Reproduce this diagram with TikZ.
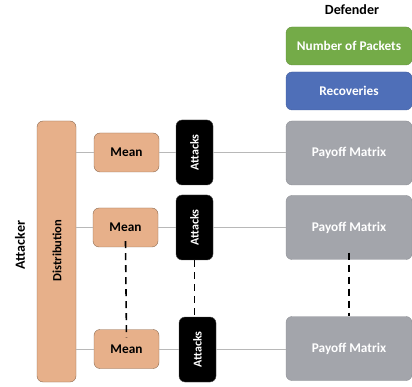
\documentclass[tikz,border=0pt]{standalone}
\usepackage{fontspec}
\setmainfont{Carlito}
\begin{document}
\begin{tikzpicture}[x=1pt,y=-1pt,
  box/.style={draw, rounded corners=6pt, inner sep=0pt, font=\bfseries\fontsize{13.3}{15}\selectfont},
  meanbox/.style={box, fill=meanfill, draw=meanedge, minimum width=65pt, minimum height=39pt},
  attbox/.style={box, fill=black, draw=black!70, text=white, minimum width=37pt, minimum height=65pt, font=\bfseries\fontsize{12}{14}\selectfont},
  paybox/.style={box, fill=payfill, draw=payedge, text=white, minimum width=126pt, minimum height=64pt},
  link/.style={draw=linegray, line width=0.8pt},
  dots/.style={draw=black, line width=1.6pt, dash pattern=on 7pt off 5pt}]
\definecolor{meanfill}{HTML}{E7B08A}
\definecolor{meanedge}{HTML}{8C6A50}
\definecolor{payfill}{HTML}{A3A5AB}
\definecolor{payedge}{HTML}{8E9096}
\definecolor{greenfill}{HTML}{74AB48}
\definecolor{bluefill}{HTML}{4F6FB8}
\definecolor{linegray}{HTML}{B8B8B8}
\useasboundingbox (0,0) rectangle (412,387);
% defender side
\node[font=\bfseries\fontsize{14}{16}\selectfont] (def) at (352,10) {Defender};
\node[box, fill=greenfill, draw=greenfill!85!black, text=white, minimum width=126pt, minimum height=38pt] (np) at (349,46) {Number of Packets};
\node[box, fill=bluefill, draw=bluefill!85!black, text=white, minimum width=126pt, minimum height=38pt] (rec) at (349,91) {Recoveries};
\node[paybox] (p1) at (349,153) {Payoff Matrix};
\node[paybox] (p2) at (349,227.5) {Payoff Matrix};
\node[paybox] (p3) at (349,348.5) {Payoff Matrix};
% attacker side
\node[font=\bfseries\fontsize{14}{16}\selectfont, rotate=90] (att) at (20,245) {Attacker};
\node[box, fill=meanfill, draw=meanedge, minimum width=39pt, minimum height=261pt] (dist) at (56.5,251.5) {};
\node[font=\bfseries\fontsize{12.5}{14}\selectfont, rotate=90] (distl) at (57,250.5) {Distribution};
\node[meanbox] (m1) at (126.5,152.5) {Mean};
\node[meanbox] (m2) at (125.5,227.5) {Mean};
\node[meanbox] (m3) at (126.5,349) {Mean};
\node[attbox] (a1) at (194.5,152.5) {\rotatebox{90}{Attacks}};
\node[attbox] (a2) at (194.5,227.5) {\rotatebox{90}{Attacks}};
\node[attbox] (a3) at (197.5,349.5) {\rotatebox{90}{Attacks}};
% links
\draw[link] (dist.east |- m1.west) -- (m1.west);
\draw[link] (dist.east |- m2.west) -- (m2.west);
\draw[link] (dist.east |- m3.west) -- (m3.west);
\draw[link] (m1.east) -- (a1.west |- m1.east);
\draw[link] (m2.east) -- (a2.west |- m2.east);
\draw[link] (m3.east) -- (a3.west |- m3.east);
\draw[link] (a1.east) -- (p1.west |- a1.east);
\draw[link] (a2.east) -- (p2.west |- a2.east);
\draw[link] (a3.east) -- (p3.west |- a3.east);
% dashed continuation
\draw[dots] ([yshift=6pt]m2.south) -- ([yshift=-8pt]m3.north);
\draw[dots] (a2.south) -- (a2.south |- a3.north);
\draw[dots] ([yshift=7pt]p2.south) -- (p2.south |- p3.north);
\end{tikzpicture}
\end{document}
